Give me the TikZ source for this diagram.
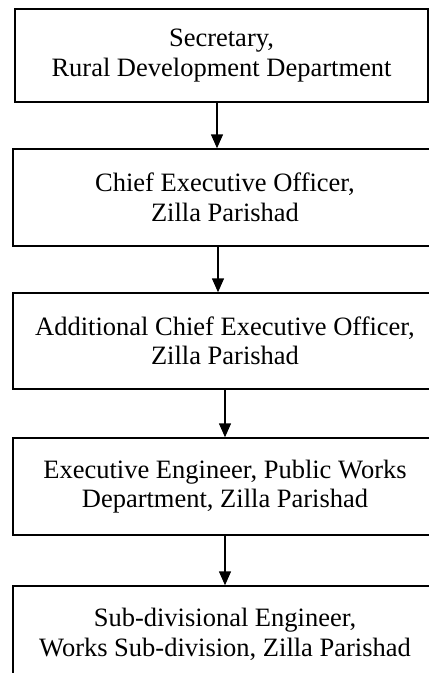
\documentclass[tikz,border=0pt]{standalone}
\usepackage{fontspec}
\setmainfont{Liberation Serif}
\usetikzlibrary{arrows.meta}
\tikzset{
  box/.style={draw, line width=1.4pt, rectangle, align=center, inner sep=0pt,
    font=\fontsize{26.5}{29.5}\selectfont},
  arr/.style={line width=1.4pt, -{Triangle[width=12pt,length=14pt]}}
}
\begin{document}
\begin{tikzpicture}[x=1pt,y=-1pt]
\useasboundingbox (0,0) rectangle (429,673);
\clip (0,0) rectangle (429,673);
\node [box, minimum width=413pt, minimum height=93pt] (sec) at (221.5,55.5) {Secretary,\\Rural Development Department};
\node [box, minimum width=424pt, minimum height=97pt] (ceo) at (225,197.5) {Chief Executive Officer,\\Zilla Parishad};
\node [box, minimum width=424pt, minimum height=96pt] (aceo) at (225,341) {Additional Chief Executive Officer,\\Zilla Parishad};
\node [box, minimum width=424pt, minimum height=97pt] (ee) at (225,486.5) {Executive Engineer, Public Works\\Department, Zilla Parishad};
\node [box, minimum width=424pt, minimum height=97pt] (sde) at (225,634.5) {Sub-divisional Engineer,\\Works Sub-division, Zilla Parishad};
\draw [arr] ([xshift=-4.5pt]sec.south) -- ([xshift=-4.5pt]sec.south |- ceo.north);
\draw [arr] ([xshift=-7pt]ceo.south) -- ([xshift=-7pt]ceo.south |- aceo.north);
\draw [arr] (aceo.south) -- (ee.north);
\draw [arr] (ee.south) -- (sde.north);
\end{tikzpicture}
\end{document}
